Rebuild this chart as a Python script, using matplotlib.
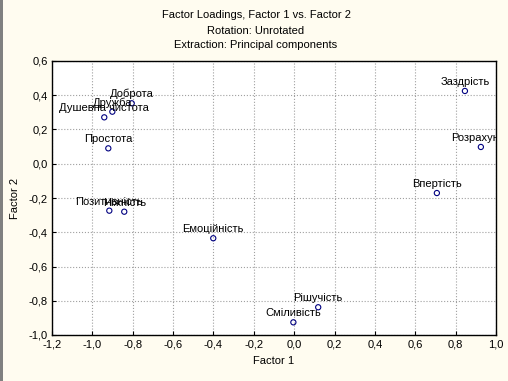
import matplotlib
matplotlib.use("Agg")
import matplotlib.pyplot as plt
from matplotlib.ticker import FuncFormatter, MultipleLocator
from matplotlib.patches import Rectangle

plt.rcParams['font.family'] = ['Liberation Sans', 'DejaVu Sans']

# factor loadings
names = ["Заздрість", "Розрахунок", "Впертість", "Доброта", "Дружба",
         "Душевна чистота", "Простота", "Позитивність", "Ніжність",
         "Емоційність", "Рішучість", "Сміливість"]
factor1 = [0.846, 0.925, 0.707, -0.805, -0.901, -0.941, -0.921, -0.916,
           -0.842, -0.401, 0.119, -0.004]
factor2 = [0.425, 0.098, -0.171, 0.353, 0.304, 0.271, 0.090, -0.274,
           -0.280, -0.435, -0.838, -0.926]

bg = "#fffcf0"
fig = plt.figure(figsize=(5.08, 3.81), dpi=100, facecolor=bg)
ax = fig.add_axes([52 / 508, 46 / 381, 444 / 508, 274 / 381])
ax.set_facecolor("white")

ax.scatter(factor1, factor2, s=14, facecolors="none", edgecolors="#000080",
           linewidths=0.8, zorder=3)
for n, x, y in zip(names, factor1, factor2):
    ax.annotate(n, (x, y), xytext=(0, 3), textcoords="offset points",
                ha="center", va="bottom", fontsize=8, annotation_clip=False,
                clip_on=True, zorder=4)

ax.set_xlim(-1.2, 1.0)
ax.set_ylim(-1.0, 0.6)
ax.xaxis.set_major_locator(MultipleLocator(0.2))
ax.yaxis.set_major_locator(MultipleLocator(0.2))
comma = FuncFormatter(lambda v, p: f"{v:.1f}".replace(".", ",").replace("-0,0", "0,0"))
ax.xaxis.set_major_formatter(comma)
ax.yaxis.set_major_formatter(comma)
ax.tick_params(direction="in", length=3, width=0.8, labelsize=8, pad=3)
ax.grid(True, linestyle=":", color="#a0a0a0", linewidth=0.8)
for s in ax.spines.values():
    s.set_linewidth(1.0)

ax.set_xlabel("Factor 1", fontsize=8, labelpad=5)
ax.set_ylabel("Factor 2", fontsize=8, labelpad=6)

fig.text(256 / 508, 1 - 15 / 381, "Factor Loadings, Factor 1 vs. Factor 2",
         ha="center", va="center", fontsize=8)
fig.text(256 / 508, 1 - 31 / 381, "Rotation: Unrotated",
         ha="center", va="center", fontsize=8)
fig.text(256 / 508, 1 - 45 / 381, "Extraction: Principal components",
         ha="center", va="center", fontsize=8)

# grey window edge on the left
fig.patches.append(Rectangle((0, 0), 3 / 508, 1, transform=fig.transFigure,
                             facecolor="#808080", edgecolor="none"))

fig.savefig("out.png", dpi=100, facecolor=bg)
